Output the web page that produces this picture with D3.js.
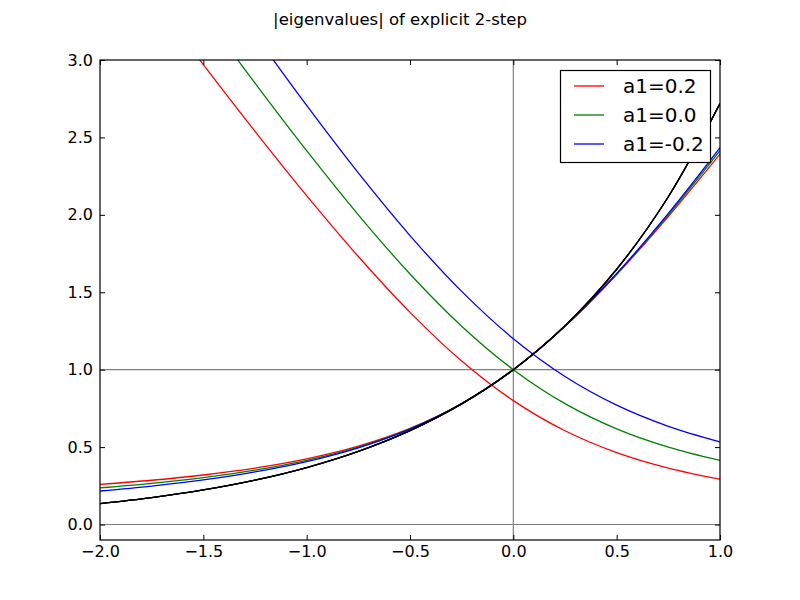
<!DOCTYPE html>
<html>
<head>
<meta charset="utf-8">
<script src="https://cdn.jsdelivr.net/npm/d3@7"></script>
<style>
  body { margin: 0; background: #fff; }
  svg text { font-family: "DejaVu Sans", sans-serif; }
</style>
</head>
<body>
<svg id="chart" width="800" height="600"></svg>
<script>
// ---- data ----
const title = "|eigenvalues| of explicit 2-step";
const zValues = [-2, -1.75, -1.5, -1.25, -1, -0.75, -0.5, -0.25, 0, 0.25, 0.5, 0.75, 1];
const seriesLabels = ["a1=0.2", "a1=0.0", "a1=-0.2"];
const seriesColors = ["#ff0000", "#008000", "#0000ff"];
// principal root magnitude
const principal_a1_p02 = [0.2591, 0.2859, 0.3199, 0.3643, 0.4238, 0.5056, 0.6203, 0.7811, 1.0, 1.2803, 1.6145, 1.9894, 2.3926];
const principal_a1_00  = [0.2361, 0.2656, 0.3028, 0.3508, 0.4142, 0.5000, 0.6180, 0.7808, 1.0, 1.2808, 1.6180, 2.0000, 2.4142];
const principal_a1_m02 = [0.2166, 0.2486, 0.2886, 0.3397, 0.4064, 0.4955, 0.6162, 0.7805, 1.0, 1.2812, 1.6211, 2.0095, 2.4341];
// spurious root magnitude
const spurious_a1_p02 = [3.8591, 3.4109, 2.9699, 2.5393, 2.1238, 1.7306, 1.3703, 1.0561, 0.8, 0.6053, 0.4645, 0.3644, 0.2926];
const spurious_a1_00  = [4.2361, 3.7656, 3.3028, 2.8508, 2.4142, 2.0000, 1.6180, 1.2808, 1.0, 0.7808, 0.6180, 0.5000, 0.4142];
const spurious_a1_m02 = [4.6166, 4.1236, 3.6386, 3.1647, 2.7064, 2.2705, 1.8662, 1.5055, 1.2, 0.9562, 0.7711, 0.6345, 0.5341];
// exact exponential reference
const expValues = [0.1353, 0.1738, 0.2231, 0.2865, 0.3679, 0.4724, 0.6065, 0.7788, 1.0, 1.2840, 1.6487, 2.1170, 2.7183];
const xTicks = [-2, -1.5, -1, -0.5, 0, 0.5, 1];
const yTicks = [0, 0.5, 1, 1.5, 2, 2.5, 3];

const principals = [principal_a1_p02, principal_a1_00, principal_a1_m02];
const spurious = [spurious_a1_p02, spurious_a1_00, spurious_a1_m02];

// ---- layout ----
const svg = d3.select("#chart");
const L = 100, R = 720, T = 60, B = 540;
const x = d3.scaleLinear().domain([-2, 1]).range([L, R]);
const y = d3.scaleLinear().domain([-0.1, 3.0]).range([B, T]);

svg.append("rect").attr("width", 800).attr("height", 600).attr("fill", "#fff");

svg.append("text").attr("x", 400).attr("y", 25).attr("text-anchor", "middle")
  .attr("font-size", "16.5px").attr("fill", "#000").text(title);

svg.append("defs").append("clipPath").attr("id", "clip")
  .append("rect").attr("x", L).attr("y", T).attr("width", R - L).attr("height", B - T);

const plot = svg.append("g").attr("clip-path", "url(#clip)");

// reference lines
plot.append("line").attr("x1", L).attr("x2", R).attr("y1", y(0)).attr("y2", y(0))
  .attr("stroke", "#808080").attr("stroke-width", 1.2);
plot.append("line").attr("x1", L).attr("x2", R).attr("y1", y(1)).attr("y2", y(1))
  .attr("stroke", "#808080").attr("stroke-width", 1.2);
plot.append("line").attr("x1", x(0)).attr("x2", x(0)).attr("y1", T).attr("y2", B)
  .attr("stroke", "#808080").attr("stroke-width", 1.2);

const line = d3.line().x((d, i) => x(zValues[i])).y(d => y(d)).curve(d3.curveCatmullRom);

seriesLabels.forEach((lab, k) => {
  plot.append("path").datum(principals[k]).attr("d", line)
    .attr("fill", "none").attr("stroke", seriesColors[k]).attr("stroke-width", 1.3);
  plot.append("path").datum(spurious[k]).attr("d", line)
    .attr("fill", "none").attr("stroke", seriesColors[k]).attr("stroke-width", 1.3);
});
for (let k = 0; k < 3; k++) {
  plot.append("path").datum(expValues).attr("d", line)
    .attr("fill", "none").attr("stroke", "#000").attr("stroke-width", 1.3);
}

// axes (ticks inside on all sides)
const fmt = d => d3.format(".1f")(d).replace("-", "\u2212");
const tickLen = 5;
const axB = svg.append("g").attr("transform", `translate(0,${B})`)
  .call(d3.axisBottom(x).tickValues(xTicks).tickFormat(fmt).tickSizeInner(-tickLen).tickSizeOuter(0).tickPadding(6));
const axT = svg.append("g").attr("transform", `translate(0,${T})`)
  .call(d3.axisTop(x).tickValues(xTicks).tickFormat("").tickSizeInner(-tickLen).tickSizeOuter(0));
const axL = svg.append("g").attr("transform", `translate(${L},0)`)
  .call(d3.axisLeft(y).tickValues(yTicks).tickFormat(fmt).tickSizeInner(-tickLen).tickSizeOuter(0).tickPadding(7));
const axR = svg.append("g").attr("transform", `translate(${R},0)`)
  .call(d3.axisRight(y).tickValues(yTicks).tickFormat("").tickSizeInner(-tickLen).tickSizeOuter(0));
[axB, axT, axL, axR].forEach(a => {
  a.select(".domain").remove();
  a.selectAll("line").attr("stroke", "#000").attr("stroke-width", 1);
  a.selectAll("text").attr("font-size", "16px").attr("fill", "#000")
    .style("font-family", "'DejaVu Sans', sans-serif");
});

svg.append("rect").attr("x", L).attr("y", T).attr("width", R - L).attr("height", B - T)
  .attr("fill", "none").attr("stroke", "#000").attr("stroke-width", 1.2);

// legend
const lg = svg.append("g");
lg.append("rect").attr("x", 560.5).attr("y", 70.5).attr("width", 150).attr("height", 92)
  .attr("fill", "#fff").attr("stroke", "#000").attr("stroke-width", 1.2);
seriesLabels.forEach((lab, k) => {
  const yy = 86 + k * 29;
  lg.append("line").attr("x1", 574).attr("x2", 604).attr("y1", yy).attr("y2", yy)
    .attr("stroke", seriesColors[k]).attr("stroke-width", 1.3);
  lg.append("text").attr("x", 623).attr("y", yy + 7).attr("font-size", "20px")
    .attr("fill", "#000").text(lab);
});
</script>
</body>
</html>
